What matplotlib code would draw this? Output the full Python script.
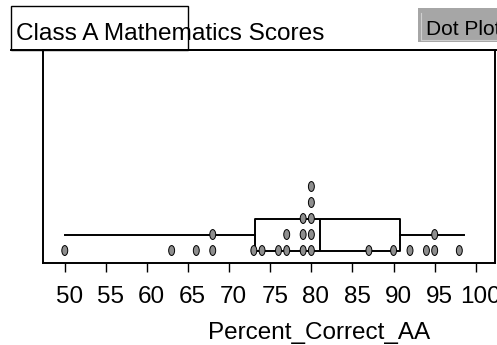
import matplotlib
matplotlib.use("Agg")
import matplotlib.pyplot as plt
import matplotlib.transforms as mtransforms
from matplotlib.patches import Ellipse, Rectangle
from matplotlib.lines import Line2D

plt.rcParams["font.family"] = ["Liberation Sans", "DejaVu Sans"]

# scores (percent correct), one dot per student
scores = [50, 63, 66, 68, 68, 73, 74, 76, 77, 77, 79, 79, 79,
          80, 80, 80, 80, 80, 87, 90, 92, 94, 95, 95, 98]

# box plot summary shown under the dots
whisker_lo = 50.0
q1 = 73.2
median = 81.0
q3 = 90.8
whisker_hi = 98.6

xticks = [50, 55, 60, 65, 70, 75, 80, 85, 90, 95, 100]

W, H = 497, 345
fig = plt.figure(figsize=(W / 100, H / 100), dpi=100)
ax = fig.add_axes([43 / W, 1 - 263 / H, 452 / W, 213 / H])

# box plot (horizontal), box spans dot rows 0..2
stats = [dict(whislo=whisker_lo, q1=q1, med=median, q3=q3, whishi=whisker_hi,
              fliers=[])]
ax.bxp(stats, positions=[1], widths=2, orientation="horizontal",
       showcaps=False, showfliers=False,
       boxprops=dict(color="black", linewidth=1.4),
       medianprops=dict(color="black", linewidth=1.4),
       whiskerprops=dict(color="black", linewidth=1.4),
       zorder=2)

# stacked dots
counts = {}
for v in scores:
    level = counts.get(v, 0)
    counts[v] = level + 1
    ax.add_patch(Ellipse((v, level), 0.72, 0.62, facecolor="#8e8e8e",
                         edgecolor="black", linewidth=0.7, zorder=3))

ax.set_xlim(47.35, 102.34)
ax.set_ylim(-0.78, 12.53)
ax.set_xticks(xticks)
ax.set_xticklabels([str(t) for t in xticks])
ax.set_yticks([])
ax.tick_params(axis="x", direction="out", length=6.5, width=1.0, pad=10,
               labelsize=17.5)
# labels sit a few pixels right of their ticks
shift = mtransforms.ScaledTranslation(4.5 / 100, 0, fig.dpi_scale_trans)
for lab in ax.get_xticklabels():
    lab.set_transform(lab.get_transform() + shift)
for s in ax.spines.values():
    s.set_linewidth(1.4)
ax.set_xlabel("Percent_Correct_AA", fontsize=17.5)
ax.xaxis.set_label_coords(0.61, -0.276)

# title tab and header line
fig.add_artist(Rectangle((11 / W, 1 - 50 / H), 177 / W, 44 / H,
                         transform=fig.transFigure, fill=False,
                         edgecolor="black", linewidth=1.0))
fig.add_artist(Line2D([11 / W, 1], [1 - 50 / H, 1 - 50 / H],
                      transform=fig.transFigure, color="black", linewidth=1.4))
fig.text(16 / W, 1 - 39.5 / H, "Class A Mathematics Scores", fontsize=17.6,
         ha="left", va="baseline")

# "Dot Plot" button at top right
fig.add_artist(Rectangle((418 / W, 1 - 42 / H), 90 / W, 34 / H,
                         transform=fig.transFigure, facecolor="#a6a6a6",
                         edgecolor="none"))
fig.add_artist(Line2D([421 / W, 421 / W], [1 - 40 / H, 1 - 13 / H],
                      transform=fig.transFigure, color="#cfcfcf", linewidth=0.8))
fig.add_artist(Line2D([421 / W, 1], [1 - 40 / H, 1 - 40 / H],
                      transform=fig.transFigure, color="#cfcfcf", linewidth=0.8))
fig.text(426 / W, 1 - 35 / H, "Dot Plot", fontsize=15, ha="left",
         va="baseline")

fig.savefig("out.png", dpi=100)
